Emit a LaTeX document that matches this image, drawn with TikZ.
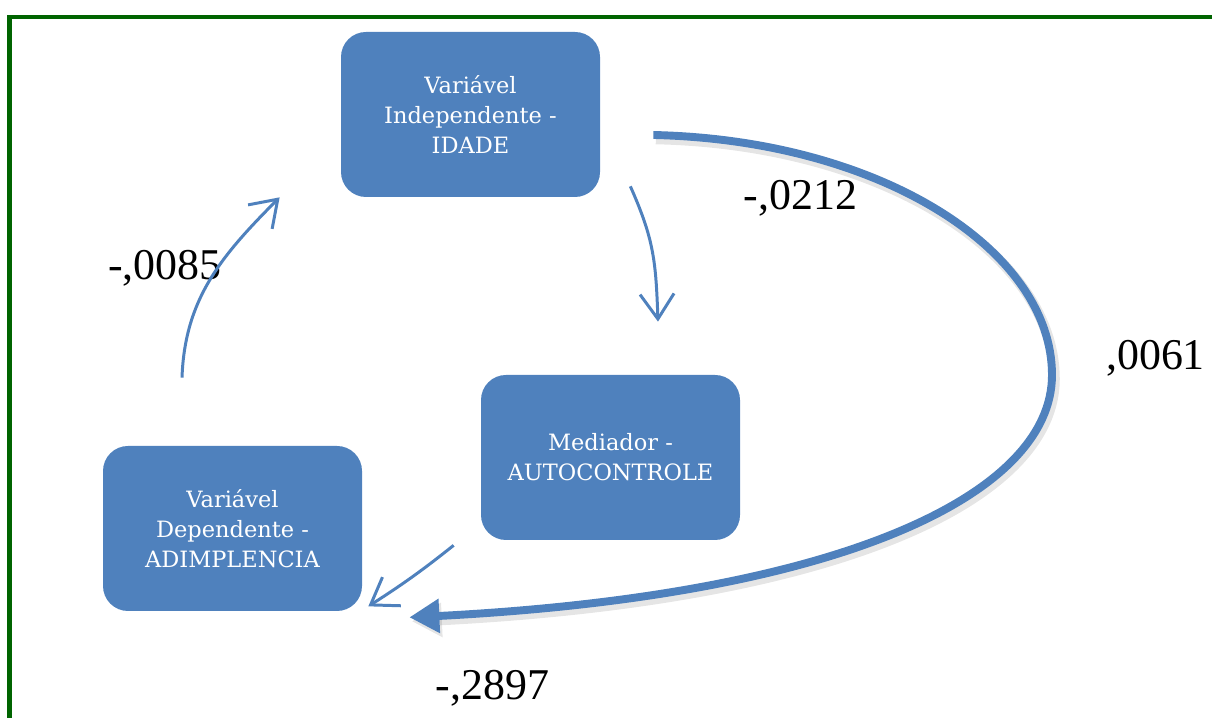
\documentclass[tikz,border=0pt]{standalone}
\usepackage{fontspec}
\setmainfont{Liberation Serif}
\newfontfamily\boxfont{DejaVu Serif}
\usepackage{tikz}
\usetikzlibrary{calc,arrows.meta,bending}
\definecolor{boxblue}{RGB}{79,129,189}
\definecolor{framegreen}{RGB}{0,100,0}
\tikzset{
    box/.style={rectangle, rounded corners=5mm, fill=boxblue, text=white, inner sep=0pt,
                minimum width=5.18cm, minimum height=3.3cm, align=center,
                font=\boxfont\fontsize{12.8}{17}\selectfont},
    link/.style={draw=boxblue, line width=1.7pt, -{Straight Barb[length=5mm, width=6.8mm]}},
    mainlink/.style={draw=boxblue, line width=4.5pt, -{Triangle[length=6mm, width=6.5mm]},
                preaction={draw=black, opacity=0.1, line width=6pt,
                transform canvas={shift={(0.05,-0.08)}}}},
    coef/.style={anchor=base, inner sep=0pt, font=\fontsize{25}{30}\selectfont}
}

\begin{document}
\begin{tikzpicture}
    \useasboundingbox (0,0) rectangle (24.24,14.36);
    % frame
    \draw[framegreen, line width=2.6pt] (0.19,0) -- (0.19,14.02) -- (24.24,14.02);

    % Nodes
    \node[box] (idade) at (9.41,12.07) {Variável\\Independente -\\IDADE};
    \node[box] (auto) at (12.21,5.21) {Mediador -\\AUTOCONTROLE};
    \node[box] (adim) at (4.65,3.79) {Variável\\Dependente -\\ADIMPLENCIA};

    % coefficients
    \node[coef] (c1) at (16.01,10.16) {-,0212};
    \node[coef] (c2) at (3.30,8.76) {-,0085};
    \node[coef] (c3) at (23.11,6.96) {,0061};
    \node[coef] (c4) at (9.85,0.36) {-,2897};

    % arrow ends
    \coordinate (a1) at ($(idade.south east)+(0.6,0.22)$);
    \coordinate (b1) at ($(auto.north)+(0.95,1.06)$);
    \coordinate (a2) at ($(auto.south west)+(-0.54,-0.10)$);
    \coordinate (b2) at ($(adim.south east)+(0.12,0.10)$);
    \coordinate (a3) at ($(adim.north)+(-1.01,1.36)$);
    \coordinate (b3) at ($(idade.south west)+(-1.22,0)$);
    \coordinate (a4) at ($(idade.east)+(1.06,-0.41)$);
    \coordinate (b4) at ($(adim.south east)+(0.94,-0.12)$);

    % edges
    \draw[link] (a1) to[out=-66, in=92, looseness=1.1] (b1);
    \draw[link] (a2) to[bend left=3] (b2);
    \draw[link] (a3) to[out=88, in=225] (b3);
    \draw[mainlink] (a4) .. controls (17.6,11.56) and (21.04,9.36) .. (21.04,6.86)
                         .. controls (21.04,4.4) and (16.6,2.36) .. (b4);
\end{tikzpicture}
\end{document}
